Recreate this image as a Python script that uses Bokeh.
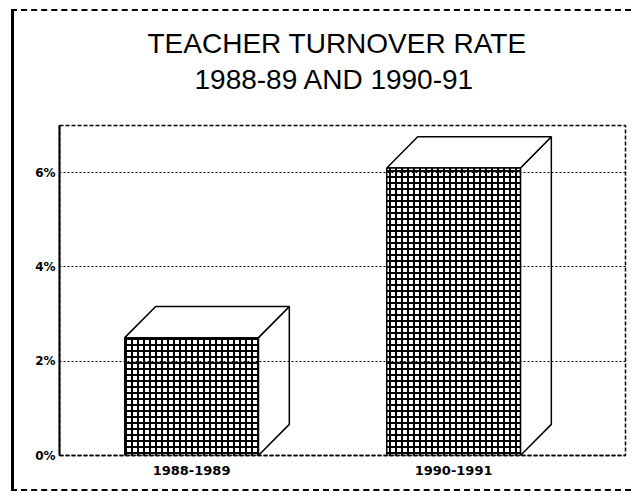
from bokeh.plotting import figure
from bokeh.models import Title, FixedTicker, Range1d, ColumnDataSource
from bokeh.embed import file_html
from bokeh.resources import INLINE

# ---- data ----
periods = ["1988-1989", "1990-1991"]
rates = [2.5, 6.1]
y_ticks = [0, 2, 4, 6]
y_tick_labels = ["0%", "2%", "4%", "6%"]
title_lines = ["TEACHER TURNOVER RATE", "1988-89 AND 1990-91"]

# ---- styles ----
BAR_W = 0.51
DX = 0.118   # 3D depth, x units
DY = 0.66    # 3D depth, y units

xs = list(range(len(periods)))

p = figure(width=620, height=482,
           x_range=Range1d(-0.504, 1.656), y_range=Range1d(0, 7),
           output_backend="svg", toolbar_location=None,
           min_border_left=45, min_border_right=9,
           min_border_top=114, min_border_bottom=38)
p.styles = {"margin-left": "11px", "margin-top": "9px",
            "border-left": "3px solid black",
            "border-top": "2px dashed black",
            "border-bottom": "2px dashed black",
            "border-right": "none"}

# titles (line 2 added first -> closest to plot)
p.add_layout(Title(text=title_lines[1], align="left", offset=135, text_font="Liberation Sans",
                   text_font_size="28px", text_font_style="normal", text_color="black",
                   standoff=62), "above")
p.add_layout(Title(text=title_lines[0], align="left", offset=88, text_font="Liberation Sans",
                   text_font_size="28px", text_font_style="normal", text_color="black",
                   standoff=-56), "above")

# 3D bars
front = ColumnDataSource(dict(x=xs, top=rates))
side_xs, side_ys, top_xs, top_ys = [], [], [], []
for x, v in zip(xs, rates):
    r = x + BAR_W / 2
    l = x - BAR_W / 2
    side_xs.append([r, r + DX, r + DX, r])
    side_ys.append([0, DY, v + DY, v])
    top_xs.append([l, l + DX, r + DX, r])
    top_ys.append([v, v + DY, v + DY, v])

p.patches(side_xs, side_ys, fill_color="white", line_color="black", line_width=1.5)
p.patches(top_xs, top_ys, fill_color="white", line_color="black", line_width=1.5)
p.vbar(x="x", top="top", bottom=0, width=BAR_W, source=front,
       fill_color="white", line_color="black", line_width=1.5,
       hatch_pattern="+", hatch_scale=6, hatch_weight=2, hatch_color="black")

# axes
p.yaxis.ticker = FixedTicker(ticks=y_ticks)
p.yaxis.major_label_overrides = {t: l for t, l in zip(y_ticks, y_tick_labels)}
p.yaxis.axis_line_color = "black"
p.yaxis.axis_line_width = 2
p.yaxis.major_tick_out = 0
p.yaxis.major_tick_in = 0
p.yaxis.minor_tick_out = 0
p.yaxis.minor_tick_in = 0
p.yaxis.major_label_standoff = 4
p.yaxis.major_label_text_font = "DejaVu Sans"
p.yaxis.major_label_text_font_style = "bold"
p.yaxis.major_label_text_font_size = "12px"
p.yaxis.major_label_text_color = "black"

p.xaxis.ticker = FixedTicker(ticks=xs)
p.xaxis.major_label_overrides = {x: s for x, s in zip(xs, periods)}
p.xaxis.axis_line_color = "black"
p.xaxis.axis_line_width = 1.5
p.xaxis.axis_line_dash = "4 2"
p.xaxis.major_tick_out = 0
p.xaxis.major_tick_in = 0
p.xaxis.minor_tick_out = 0
p.xaxis.minor_tick_in = 0
p.xaxis.major_label_standoff = 10
p.xaxis.major_label_text_font = "DejaVu Sans"
p.xaxis.major_label_text_font_style = "bold"
p.xaxis.major_label_text_font_size = "13px"
p.xaxis.major_label_text_color = "black"

# grid
p.xgrid.visible = False
p.ygrid.grid_line_color = "black"
p.ygrid.grid_line_dash = "2 2"
p.ygrid.grid_line_width = 1.2
p.ygrid.level = "overlay"

p.outline_line_color = "black"
p.outline_line_dash = "4 2"
p.outline_line_width = 1.5
p.background_fill_color = "white"
p.border_fill_color = "white"

open("out.html", "w").write(file_html(p, INLINE))
